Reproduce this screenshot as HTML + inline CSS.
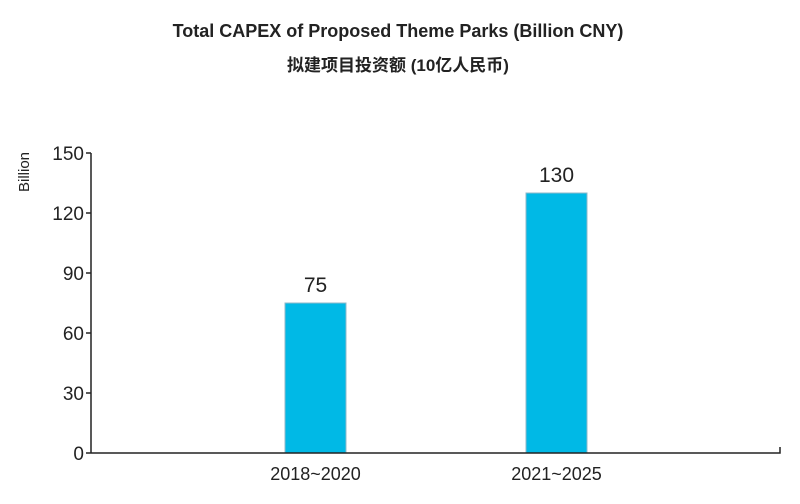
<!DOCTYPE html>
<html><head><meta charset="utf-8"><style>
body{margin:0;background:#fff;width:800px;height:499px;overflow:hidden}
svg text{font-family:"Liberation Sans","Noto Sans CJK SC",sans-serif;fill:#222}
</style></head><body>
<svg width="800" height="499">
<text x="398" y="37" text-anchor="middle" font-size="18" font-weight="bold">Total CAPEX of Proposed Theme Parks (Billion CNY)</text>
<text x="398" y="71" text-anchor="middle" font-size="17" font-weight="bold">拟建项目投资额 (10亿人民币)</text>
<text transform="translate(29,172) rotate(-90)" text-anchor="middle" font-size="15">Billion</text>
<g id="g"></g>
</svg>
<script>
const categories=["2018~2020","2021~2025"];
const values=[75,130];
const yTicks=[0,30,60,90,120,150];
const y0=453,y1=153,vmax=150;
const y=v=>y0-(v/vmax)*(y0-y1);
const x=i=>315.5+i*241;
const bw=61;
const g=document.getElementById('g');
const NS='http://www.w3.org/2000/svg';
function mk(t,a){const e=document.createElementNS(NS,t);for(const k in a)e.setAttribute(k,a[k]);g.appendChild(e);return e;}
yTicks.forEach(t=>{
 const l=mk('line',{x1:86,x2:91,y1:y(t),y2:y(t),stroke:'#222','stroke-width':1.5});
 
 
 const tx=mk('text',{x:84,y:y(t)+7,'text-anchor':'end','font-size':19});
 tx.textContent=t;
 
 
});
categories.forEach((c,i)=>{
 const r=mk('rect',{x:x(i)-bw/2,y:y(values[i]),width:bw,height:y0-y(values[i]),fill:'#00b9e6',stroke:'#8fb8c8','stroke-width':1});
 
 
 const v=mk('text',{x:x(i),y:y(values[i])-11,'text-anchor':'middle','font-size':21});
 v.textContent=values[i];
 
 
 const t=mk('text',{x:x(i),y:480,'text-anchor':'middle','font-size':18});
 t.textContent=c;
 
 
});
const ya=mk('line',{x1:91,x2:91,y1:y1,y2:y0,stroke:'#222','stroke-width':1.5});


const xa=mk('polyline',{points:`91,${y0} 780,${y0} 780,${y0-6}`,fill:'none',stroke:'#222','stroke-width':1.5});


</script>
</body></html>
